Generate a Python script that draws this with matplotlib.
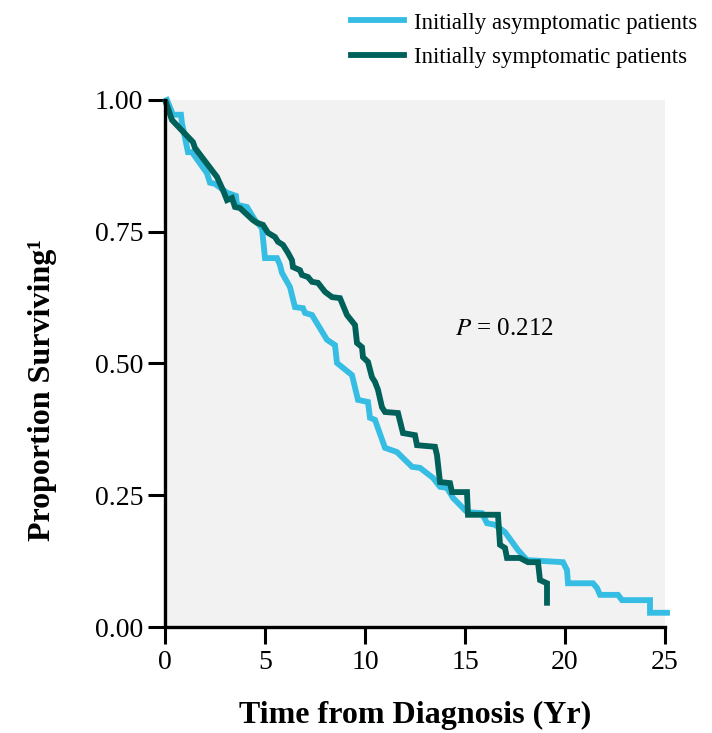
import matplotlib.pyplot as plt

# Kaplan-Meier style survival curves
asym_years = [0.1, 0.4, 0.8, 0.85, 1.15, 1.35, 2.1, 2.25, 2.5, 3.1, 3.55, 3.6, 4.1, 4.5,
              4.85, 5.0, 5.6, 5.75, 5.85, 6.25, 6.5, 6.9, 7.0, 7.35, 8.1, 8.5, 8.6, 9.35,
              9.65, 10.15, 10.25, 10.5, 11.0, 11.6, 12.35, 12.75, 13.4, 13.75, 14.1, 14.4,
              15.1, 15.85, 16.1, 16.5, 17.0, 17.65, 18.1, 19.9, 20.1, 20.15, 21.4, 21.6,
              21.75, 22.65, 22.85, 24.25, 24.25, 25.1]
asym_surv = [1.000, 0.972, 0.972, 0.956, 0.901, 0.901, 0.861, 0.843, 0.841, 0.824, 0.818,
             0.801, 0.797, 0.772, 0.757, 0.700, 0.700, 0.687, 0.672, 0.645, 0.607, 0.605,
             0.596, 0.592, 0.545, 0.535, 0.501, 0.478, 0.431, 0.427, 0.397, 0.393, 0.340,
             0.332, 0.304, 0.302, 0.283, 0.266, 0.264, 0.245, 0.218, 0.216, 0.197, 0.194,
             0.180, 0.146, 0.127, 0.123, 0.108, 0.083, 0.083, 0.074, 0.061, 0.061, 0.051,
             0.051, 0.027, 0.027]

sym_years = [0.05, 0.35, 1.4, 1.5, 2.6, 2.9, 3.1, 3.35, 3.5, 3.75, 4.4, 4.6, 4.9, 5.15,
             5.5, 5.65, 5.9, 6.15, 6.35, 6.4, 6.75, 6.85, 7.15, 7.35, 7.65, 8.0, 8.35,
             8.75, 9.1, 9.5, 9.6, 9.85, 9.9, 10.15, 10.35, 10.5, 10.65, 10.85, 11.0,
             11.65, 11.9, 12.5, 12.6, 13.5, 13.6, 13.75, 14.25, 14.35, 15.1, 15.15,
             16.65, 16.75, 17.0, 17.1, 17.75, 18.15, 18.65, 18.75, 19.1, 19.1]
sym_surv = [0.995, 0.962, 0.920, 0.909, 0.854, 0.829, 0.810, 0.814, 0.797, 0.795, 0.772,
            0.767, 0.763, 0.748, 0.740, 0.731, 0.725, 0.710, 0.696, 0.683, 0.677, 0.668,
            0.664, 0.655, 0.653, 0.636, 0.626, 0.624, 0.592, 0.573, 0.539, 0.531, 0.512,
            0.503, 0.474, 0.465, 0.450, 0.417, 0.408, 0.406, 0.368, 0.364, 0.345, 0.342,
            0.326, 0.275, 0.273, 0.256, 0.256, 0.213, 0.213, 0.156, 0.150, 0.131, 0.131,
            0.123, 0.123, 0.089, 0.083, 0.046]

x_ticks = [0, 5, 10, 15, 20, 25]
y_ticks = [0.00, 0.25, 0.50, 0.75, 1.00]

blue = '#35bde3'
dark = '#00605a'

plt.rcParams['font.family'] = ['Liberation Serif', 'DejaVu Serif']

fig = plt.figure(figsize=(7.12, 7.33), dpi=100)
ax = fig.add_axes([0.2317, 0.1446, 0.7023, 0.719])
ax.set_facecolor('#f2f2f2')

ax.plot(asym_years, asym_surv, color=blue, lw=4.2, label='Initially asymptomatic patients',
        clip_on=False, solid_joinstyle='miter')
ax.plot(sym_years, sym_surv, color=dark, lw=4.2, label='Initially symptomatic patients',
        clip_on=False, solid_joinstyle='miter')

ax.set_xlim(0, 25)
ax.set_ylim(0, 1.0)
ax.set_xticks(x_ticks)
ax.set_xticklabels([str(t) for t in x_ticks])
ax.set_yticks(y_ticks)
ax.set_yticklabels(['%.2f' % t for t in y_ticks])
ax.tick_params(axis='both', labelsize=20, width=2.2, length=12.5, color='black')
ax.tick_params(axis='x', pad=4)
ax.tick_params(axis='y', pad=3)

for side in ['top', 'right']:
    ax.spines[side].set_visible(False)
for side in ['left', 'bottom']:
    ax.spines[side].set_linewidth(2.4)

ax.set_xlabel('Time from Diagnosis (Yr)', fontsize=23, fontweight='bold', labelpad=19)
ax.set_ylabel('Proportion Surviving\u00b9', fontsize=23, fontweight='bold')
ax.yaxis.set_label_coords(-0.215, 0.45)

ax.text(14.5, 0.555, r'$P$ = 0.212', fontsize=18, math_fontfamily='stix')

fig.legend(loc='upper right', bbox_to_anchor=(1.005, 1.008), frameon=False, fontsize=16.5,
           handlelength=2.3, handletextpad=0.45, labelspacing=0.58, borderpad=0.3)

fig.savefig('out.png', dpi=100)
